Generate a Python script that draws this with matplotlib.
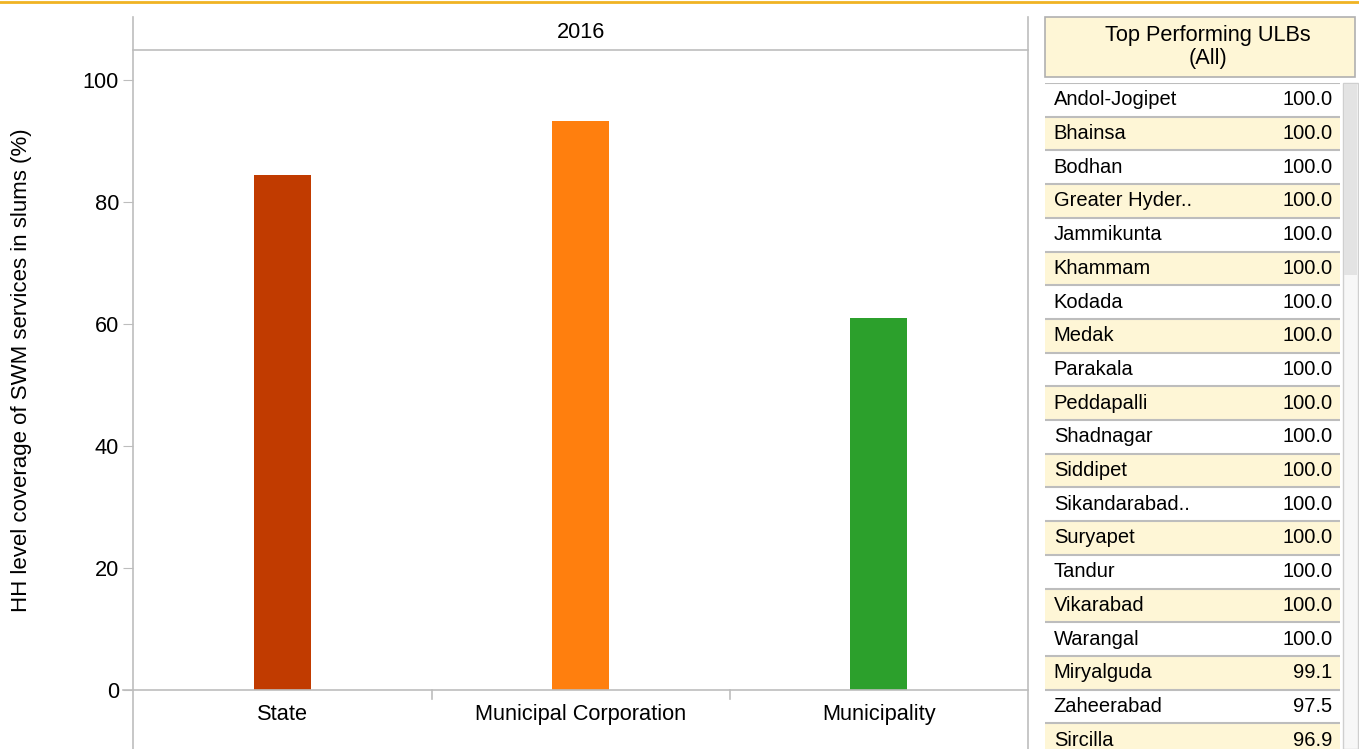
import matplotlib.pyplot as plt
from matplotlib.lines import Line2D
from matplotlib.patches import Rectangle

plt.rcParams['font.family'] = ['Liberation Sans', 'DejaVu Sans']

# chart data
categories = ["State", "Municipal Corporation", "Municipality"]
coverage = [84.4, 93.3, 61.0]
bar_colors = ["#C13B00", "#FF7F0E", "#2CA02C"]
year = "2016"

# top performing ULBs table
ulb_names = ["Andol-Jogipet", "Bhainsa", "Bodhan", "Greater Hyder..", "Jammikunta",
             "Khammam", "Kodada", "Medak", "Parakala", "Peddapalli", "Shadnagar",
             "Siddipet", "Sikandarabad..", "Suryapet", "Tandur", "Vikarabad",
             "Warangal", "Miryalguda", "Zaheerabad", "Sircilla"]
ulb_values = [100.0, 100.0, 100.0, 100.0, 100.0, 100.0, 100.0, 100.0, 100.0, 100.0,
              100.0, 100.0, 100.0, 100.0, 100.0, 100.0, 100.0, 99.1, 97.5, 96.9]

W, H = 1359, 749
fig = plt.figure(figsize=(W / 100, H / 100), dpi=100)

def fx(px):
    return px / W

def fy(py):
    return 1 - py / H

grey = "#BDBDBD"
fs = 15.7

# main bar chart
ax = fig.add_axes([fx(133), fy(690), fx(1028) - fx(133), fy(50) - fy(690)])
x = range(len(categories))
ax.bar(x, coverage, width=0.19, color=bar_colors)
ax.set_xlim(-0.5, 2.5)
ax.set_ylim(0, 104.9)
ax.set_yticks([0, 20, 40, 60, 80, 100])
ax.set_xticks(list(x))
ax.set_xticklabels(categories, fontsize=fs)
ax.tick_params(axis='x', length=0, pad=10)
ax.tick_params(axis='y', length=7, color=grey, labelsize=fs, pad=3)
for s in ["top", "right", "left"]:
    ax.spines[s].set_visible(False)
ax.spines["bottom"].set_color(grey)
ax.spines["bottom"].set_linewidth(1.2)
ax.set_ylabel("HH level coverage of SWM services in slums (%)", fontsize=16)
ax.yaxis.set_label_coords(-0.113, 0.5)

# frame lines around the pane
lines = [
    ([fx(133), fx(133)], [fy(17), fy(749)]),
    ([fx(1028), fx(1028)], [fy(17), fy(749)]),
    ([fx(133), fx(1028)], [fy(50), fy(50)]),
    ([fx(123), fx(133)], [fy(690), fy(690)]),
    ([fx(432), fx(432)], [fy(690), fy(699)]),
    ([fx(730), fx(730)], [fy(690), fy(699)]),
]
for xs, ys in lines:
    fig.add_artist(Line2D(xs, ys, color=grey, lw=1.2))
fig.text(fx(581), fy(33), year, ha='center', va='center', fontsize=fs)

# orange top border
fig.add_artist(Line2D([0, 1], [fy(2), fy(2)], color="#F0B323", lw=2))

# table header
fig.add_artist(Rectangle((fx(1045), fy(77)), fx(1355) - fx(1045), fy(17) - fy(77),
                         facecolor="#FEF6D6", edgecolor="#B0B0B0", lw=1.2))
fig.text(fx(1208), fy(47), "Top Performing ULBs\n(All)", ha='center', va='center',
         fontsize=fs, linespacing=1.15)

# table rows
tax = fig.add_axes([fx(1045), 0, fx(1340) - fx(1045), fy(83)])
n = len(ulb_names)
rows = range(n)
row_colors = ["#FFFFFF" if i % 2 == 0 else "#FEF6D6" for i in rows]
tax.barh(list(rows), [1] * n, height=1.0, left=0, color=row_colors)
for i in rows:
    tax.axhline(i + 0.5, color=grey, lw=1.5)
    tax.text(0.03, i, ulb_names[i], ha='left', va='center', fontsize=14.5)
    tax.text(0.975, i, f"{ulb_values[i]:.1f}", ha='right', va='center', fontsize=14.5)
tax.axhline(-0.5, color=grey, lw=1.5)
tax.set_xlim(0, 1)
tax.set_ylim(-0.5 + (749 - 83) / 33.7, -0.5)
tax.axis('off')

# scrollbar
fig.add_artist(Rectangle((fx(1343), 0), fx(1358) - fx(1343), fy(83), facecolor="#F7F7F7",
                         edgecolor="#CFCFCF", lw=1))
fig.add_artist(Rectangle((fx(1344), fy(275)), fx(1357) - fx(1344), fy(84) - fy(275),
                         facecolor="#E3E3E3", edgecolor="none"))

fig.savefig("out.png", dpi=100)
